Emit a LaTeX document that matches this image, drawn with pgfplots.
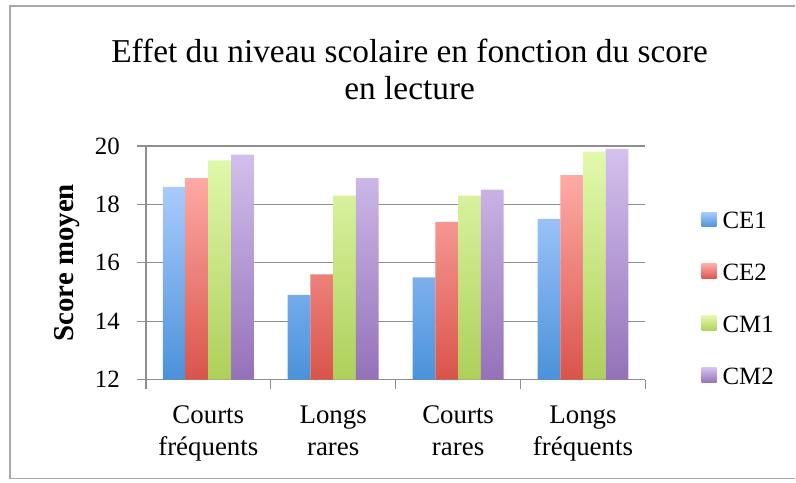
\documentclass[border=0pt]{standalone}
\usepackage{fontspec}
\setmainfont{Liberation Serif}
\usepackage{pgfplots}
\pgfplotsset{compat=1.18}

\definecolor{ceAt}{HTML}{A9CBFD}\definecolor{ceAb}{HTML}{4A92DA}
\definecolor{ceBt}{HTML}{FFAAA6}\definecolor{ceBb}{HTML}{D9544B}
\definecolor{cmAt}{HTML}{E2F9AD}\definecolor{cmAb}{HTML}{AECF5A}
\definecolor{cmBt}{HTML}{D4C1EE}\definecolor{cmBb}{HTML}{9471B8}
\definecolor{gridgray}{HTML}{8E8E8E}
\definecolor{framegray}{HTML}{A8A8A8}

\begin{document}
\begin{tikzpicture}[x=1bp,y=1bp]
\path (-146,-103) rectangle (650,380);
\draw[framegray,line width=1.4bp] (650,374) -- (-136,374) -- (-136,-99) -- (650,-99);
\begin{axis}[
  scale only axis, width=500bp, height=234bp,
  ybar=0pt, bar width=0.182,
  xmin=-0.5, xmax=3.5, ymin=12, ymax=20,
  xtick={0,1,2,3},
  xticklabels={Courts\\fréquents,Longs\\rares,Courts\\rares,Longs\\fréquents},
  minor xtick={-0.5,0.5,1.5,2.5,3.5},
  ytick={12,14,16,18,20}, minor ytick={12,14,16,18,20},
  major tick length=0pt, minor tick length=9bp, tick align=outside,
  tick style={gridgray,line width=1.3bp},
  axis lines*=left, axis line style={gridgray,line width=1.3bp},
  ymajorgrids, major grid style={gridgray,line width=1.3bp},
  /pgf/number format/assume math mode=true,
  yticklabel style={font=\fontsize{25}{30}\selectfont, anchor=east, inner sep=0pt, xshift=-26bp},
  xticklabel style={font=\fontsize{27}{32}\selectfont, align=center, anchor=north, inner sep=0pt, yshift=-26bp},
  ylabel={Score moyen},
  ylabel style={font=\fontsize{29}{32}\selectfont\bfseries, at={(axis description cs:-0.158,0.5)}, anchor=center},
  legend style={draw=none, inner sep=0pt, at={(556bp,168bp)}, anchor=north west, font=\rmfamily\fontsize{25}{28}\selectfont,
    row sep=35bp, nodes={inner sep=0pt, text height=16bp, text depth=0bp}},
  legend cell align=left,
  legend image code/.code={\path[#1,draw=none] (0bp,-6bp) rectangle (15bp,9bp); \path (0bp,0bp) -- (21bp,0bp);},
  every axis plot/.append style={draw=none},
]
\addplot[top color=ceAt, bottom color=ceAb] coordinates {(0,18.6) (1,14.9) (2,15.5) (3,17.5)};
\addplot[top color=ceBt, bottom color=ceBb] coordinates {(0,18.9) (1,15.6) (2,17.4) (3,19.0)};
\addplot[top color=cmAt, bottom color=cmAb] coordinates {(0,19.5) (1,18.3) (2,18.3) (3,19.8)};
\addplot[top color=cmBt, bottom color=cmBb] coordinates {(0,19.7) (1,18.9) (2,18.5) (3,19.9)};
\legend{CE1,CE2,CM1,CM2}
\end{axis}
\node[anchor=base,font=\fontsize{33.5}{38}\selectfont] at (264,317) {Effet du niveau scolaire en fonction du score};
\node[anchor=base,font=\fontsize{33.5}{38}\selectfont] at (264,280) {en lecture};
\end{tikzpicture}
\end{document}
